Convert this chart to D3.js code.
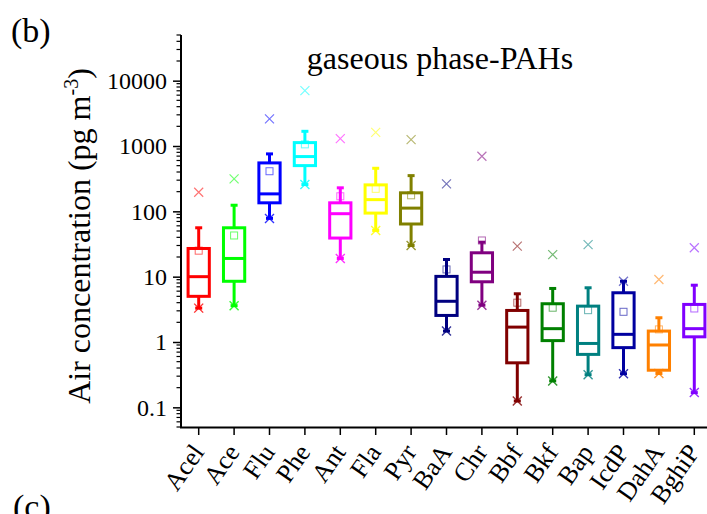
<!DOCTYPE html>
<html>
<head>
<meta charset="utf-8">
<script src="https://cdn.jsdelivr.net/npm/d3@7/dist/d3.min.js"></script>
<style>
  html, body { margin: 0; padding: 0; background: #fff; }
  svg { display: block; }
  text { font-family: "Liberation Serif", "Times New Roman", Times, serif; fill: #000; }
</style>
</head>
<body>
<svg id="chart" width="707" height="514"></svg>
<script>
// ---- data ----
const categories = ["Acel","Ace","Flu","Phe","Ant","Fla","Pyr","BaA","Chr","Bbf","Bkf","Bap","IcdP","DahA","BghiP"];
const colors = ["#ff0000","#00ff00","#0000ff","#00ffff","#ff00ff","#ffff00","#808000","#000080","#800080","#800000","#008000","#008080","#0000a0","#ff8000","#8000ff"];
const whiskerLow  = [3.3, 3.6, 78, 257, 19, 51, 30, 1.47, 3.66, 0.125, 0.254, 0.316, 0.327, 0.33, 0.168];
const q1          = [5.0, 8.5, 135, 501, 39, 94, 64, 2.55, 8.35, 0.48, 1.05, 0.646, 0.82, 0.37, 1.2];
const median      = [10, 19, 185, 689, 92, 151, 112, 4.2, 11.7, 1.69, 1.6, 0.95, 1.31, 0.9, 1.6];
const q3          = [27, 56, 551, 1127, 135, 254, 192, 10.1, 23.2, 3.04, 3.85, 3.54, 5.67, 1.47, 3.76];
const whiskerHigh = [56, 124, 757, 1678, 229, 456, 352, 18.3, 33.7, 5.47, 6.6, 6.76, 8.5, 2.35, 7.4];
const meanVals    = [25, 42.7, 411, 1060, 170, 221, 176, 12.9, 35.8, 4.0, 3.35, 3.07, 2.9, 1.56, 3.26];
const maxVals     = [196, 314, 2600, 7030, 1298, 1620, 1253, 263, 696, 29.3, 21.8, 31, 8.5, 9.06, 27.7];
const yTickValues = [0.1, 1, 10, 100, 1000, 10000];
const yTickLabels = ["0.1", "1", "10", "100", "1000", "10000"];

const FONT = '"Liberation Serif", "Times New Roman", Times, serif';
const svg = d3.select("#chart");
const mLeft = 181, mTop = 35, mBottom = 427, step = 35.4;
const mRight = mLeft + step * categories.length;

const x = d3.scaleBand().domain(categories).range([mLeft, mRight]).padding(0);
const y = d3.scaleLog().domain([0.05, 50000]).range([mBottom, mTop]);

const rows = categories.map((c, i) => ({
  c, color: colors[i], lo: whiskerLow[i], q1: q1[i], med: median[i], q3: q3[i],
  hi: whiskerHigh[i], mean: meanVals[i], max: maxVals[i]
}));

// ---- boxes ----
const bw = x.bandwidth() * 0.6;
const capW = 7;
const g = svg.append("g");
rows.forEach(d => {
  const cx = x(d.c) + x.bandwidth() / 2;
  const gg = g.append("g").attr("stroke", d.color).attr("fill", "none");
  gg.append("line").attr("x1", cx).attr("x2", cx).attr("y1", y(d.q3)).attr("y2", y(d.hi)).attr("stroke-width", 3);
  gg.append("line").attr("x1", cx).attr("x2", cx).attr("y1", y(d.q1)).attr("y2", y(d.lo)).attr("stroke-width", 3);
  gg.append("line").attr("x1", cx - capW / 2).attr("x2", cx + capW / 2).attr("y1", y(d.hi)).attr("y2", y(d.hi)).attr("stroke-width", 3);
  gg.append("line").attr("x1", cx - capW / 2).attr("x2", cx + capW / 2).attr("y1", y(d.lo)).attr("y2", y(d.lo)).attr("stroke-width", 3);
  gg.append("rect").attr("x", cx - bw / 2).attr("width", bw)
    .attr("y", y(d.q3)).attr("height", y(d.q1) - y(d.q3))
    .attr("fill", "#fff").attr("stroke-width", 3);
  gg.append("line").attr("x1", cx - bw / 2).attr("x2", cx + bw / 2).attr("y1", y(d.med)).attr("y2", y(d.med)).attr("stroke-width", 3);
  gg.append("rect").attr("x", cx - 3.5).attr("y", y(d.mean) - 3.5).attr("width", 7).attr("height", 7)
    .attr("stroke-width", 1).attr("stroke-opacity", 0.6);
  const cross = (yy, op, sw) => {
    const s = 4.5;
    gg.append("path").attr("d", `M${cx - s},${yy - s}L${cx + s},${yy + s}M${cx - s},${yy + s}L${cx + s},${yy - s}`)
      .attr("stroke-width", sw).attr("stroke-opacity", op);
  };
  cross(y(d.max), 0.55, 1.2);
  cross(y(d.lo), 0.8, 1.4);
});

// ---- axes ----
const yAxis = d3.axisLeft(y).tickValues(yTickValues).tickFormat((v, i) => yTickLabels[i]).tickSize(8).tickPadding(6);
const yg = svg.append("g").attr("transform", `translate(${mLeft},0)`).call(yAxis);
yg.attr("font-family", null);
yg.select(".domain").remove();
yg.selectAll(".tick line").attr("stroke", "#000").attr("stroke-width", 1.5);
yg.selectAll(".tick text").style("font-family", FONT).style("font-size", "24px").attr("fill", "#000");

const minor = [];
for (let e = -2; e <= 4; e++) {
  for (let m = 2; m <= 9; m++) {
    const v = m * Math.pow(10, e);
    if (v >= 0.05 && v <= 50000) minor.push(v);
  }
}
svg.append("g").selectAll("line").data(minor).join("line")
  .attr("x1", mLeft - 4.5).attr("x2", mLeft).attr("y1", d => y(d)).attr("y2", d => y(d))
  .attr("stroke", "#000").attr("stroke-width", 1.2);

svg.append("line").attr("x1", mLeft).attr("x2", mLeft).attr("y1", mTop).attr("y2", mBottom + 1)
  .attr("stroke", "#000").attr("stroke-width", 2);

const xAxis = d3.axisBottom(x).tickSize(8).tickSizeOuter(0);
const xg = svg.append("g").attr("transform", `translate(0,${mBottom})`).call(xAxis);
xg.attr("font-family", null);
xg.select(".domain").attr("stroke-width", 2).attr("d", `M${mLeft - 1},0.5H${mRight + 10}`);
xg.selectAll(".tick line").attr("stroke", "#000").attr("stroke-width", 1.5);
xg.selectAll(".tick text")
  .style("font-family", FONT).style("font-size", "26px")
  .attr("fill", "#000")
  .attr("text-anchor", "end")
  .attr("x", 0).attr("y", 0).attr("dy", "0.35em")
  .attr("transform", "translate(-1,20) rotate(-55)");

// ---- texts ----
svg.append("text").attr("x", 11).attr("y", 42).style("font-size", "34px").text("(b)");
svg.append("text").attr("x", 440).attr("y", 69).attr("text-anchor", "middle").style("font-size", "32px").text("gaseous phase-PAHs");
svg.append("text").attr("x", 13).attr("y", 518).style("font-size", "34px").text("(c)");

const yl = svg.append("text")
  .attr("transform", "translate(90,236) rotate(-90)")
  .attr("text-anchor", "middle").style("font-size", "32px");
yl.append("tspan").text("Air concentration (pg m");
yl.append("tspan").attr("dy", "-12").style("font-size", "20px").text("-3");
yl.append("tspan").attr("dy", "12").text(")");
</script>
</body>
</html>
